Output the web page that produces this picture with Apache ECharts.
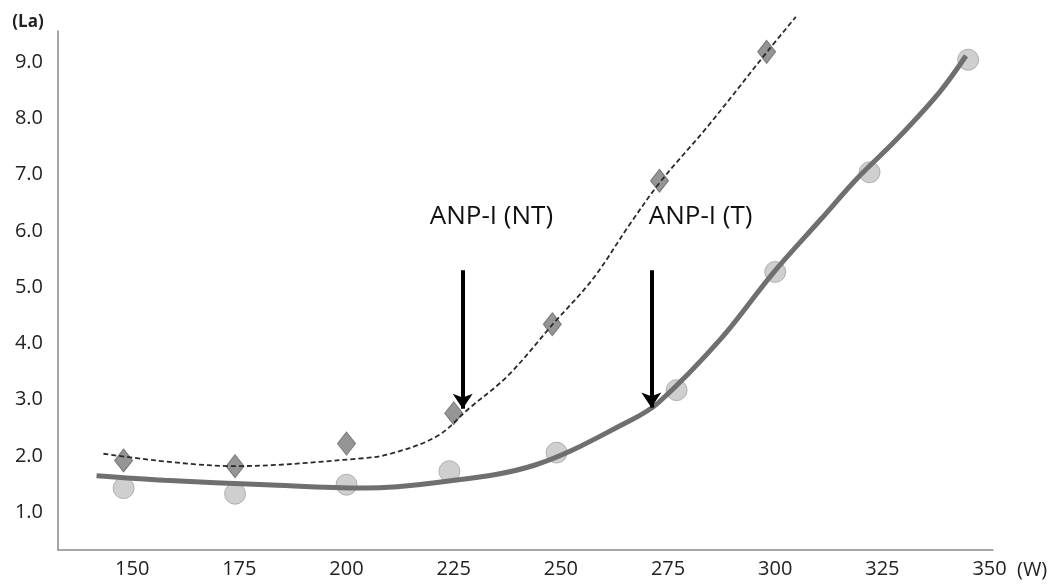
<!DOCTYPE html>
<html>
<head>
<meta charset="utf-8">
<script src="https://cdn.jsdelivr.net/npm/echarts@6/dist/echarts.min.js"></script>
<style>html,body{margin:0;padding:0;background:#fff;}#chart{width:1052px;height:584px;}</style>
</head>
<body>
<div id="chart"></div>
<script>
// Tick labels
const xTicks = [150, 175, 200, 225, 250, 275, 300, 325, 350];
const yTicks = [1, 2, 3, 4, 5, 6, 7, 8, 9];

// Measured points: T (circles)
const wT = [148, 174, 200, 224, 249, 277, 300, 322, 345];
const laT = [1.43, 1.33, 1.49, 1.73, 2.06, 3.17, 5.27, 7.04, 9.04];

// Measured points: NT (diamonds)
const wNT = [148, 174, 200, 225, 248, 273, 298];
const laNT = [1.92, 1.82, 2.22, 2.76, 4.34, 6.89, 9.18];

// Trend curve T (solid)
const trendTW = [141.7, 157.6, 181.2, 203.9, 221.1, 244.0, 266.2, 272.8, 287.3, 299.5, 310.7, 319.1, 328.4, 338.4, 344.5];
const trendTLa = [1.65, 1.57, 1.49, 1.43, 1.53, 1.84, 2.63, 2.95, 4.08, 5.25, 6.21, 6.93, 7.63, 8.47, 9.11];

// Trend curve NT (dashed)
const trendNTW = [143.3, 173.6, 203.9, 210.3, 221.1, 228.5, 237.7, 248.1, 257.5, 266.2, 273.2, 284.3, 298.1, 304.8];
const trendNTLa = [2.04, 1.82, 1.96, 2.04, 2.35, 2.84, 3.43, 4.34, 5.15, 6.13, 6.87, 7.86, 9.18, 9.80];

// Annotations
const arrowLabels = ['ANP-I (NT)', 'ANP-I (T)'];
const arrowW = [227.1, 271.1];
const arrowTop = [5.30, 5.30];
const arrowBottom = [2.84, 2.86];
const labelW = [233.8, 282.6];
const labelLa = [6.25, 6.25];

const zip = (a, b) => a.map((v, i) => [v, b[i]]);
const FONT = 'Open Sans';

const chart = echarts.init(document.getElementById('chart'));
chart.setOption({
  backgroundColor: '#ffffff',
  animation: false,
  grid: { left: 58, right: 59, top: 31, bottom: 34, outerBoundsMode: 'none' },
  xAxis: {
    type: 'value',
    min: 132.7,
    max: 350.8,
    name: '(W)',
    nameLocation: 'end',
    nameGap: 24,
    nameTextStyle: { fontFamily: FONT, fontSize: 20, color: '#222', align: 'left', verticalAlign: 'top', lineHeight: 40 },
    axisLine: { show: true, lineStyle: { color: '#8a8a8a', width: 1.5 } },
    axisTick: { show: false },
    splitLine: { show: false },
    axisLabel: {
      customValues: xTicks,
      margin: 9,
      fontFamily: FONT, fontSize: 20, color: '#222',
      formatter: v => String(v)
    }
  },
  yAxis: {
    type: 'value',
    min: 0.33,
    max: 9.55,
    name: '(La)',
    nameLocation: 'end',
    nameGap: 0,
    nameTextStyle: { fontFamily: FONT, fontSize: 17, fontWeight: 'bold', color: '#222', padding: [0, 60, 0, 0] },
    axisLine: { show: true, lineStyle: { color: '#8a8a8a', width: 1.5 } },
    axisTick: { show: false },
    splitLine: { show: false },
    axisLabel: {
      customValues: yTicks,
      margin: 15,
      fontFamily: FONT, fontSize: 20, color: '#222',
      formatter: v => v.toFixed(1)
    }
  },
  series: [
    {
      name: 'T points', type: 'scatter', z: 2,
      symbol: 'circle', symbolSize: 21,
      itemStyle: { color: '#c3c3c3', borderColor: '#a3a3a3', borderWidth: 1 },
      data: zip(wT, laT)
    },
    {
      name: 'NT points', type: 'scatter', z: 2,
      symbol: 'diamond', symbolSize: [18, 23],
      itemStyle: { color: '#7b7b7b', borderColor: '#686868', borderWidth: 1 },
      data: zip(wNT, laNT)
    },
    {
      name: 'T trend', type: 'line', z: 3,
      smooth: 0.35, showSymbol: false, symbol: 'none',
      lineStyle: { color: '#6f6f6f', width: 5 },
      data: zip(trendTW, trendTLa)
    },
    {
      name: 'NT trend', type: 'line', z: 3, clip: false,
      smooth: 0.35, showSymbol: false, symbol: 'none',
      lineStyle: { color: '#2a2a2a', width: 1.8, type: [5, 3] },
      data: zip(trendNTW, trendNTLa),
      markLine: {
        silent: true,
        symbol: ['none', 'arrow'],
        symbolSize: 15,
        label: { show: false },
        lineStyle: { color: '#000', width: 4, type: 'solid' },
        data: arrowW.map((w, i) => [
          { coord: [w, arrowTop[i]] },
          { coord: [w, arrowBottom[i]] }
        ])
      }
    },
    {
      name: 'labels', type: 'scatter', z: 4,
      symbolSize: 0, silent: true,
      itemStyle: { opacity: 1 },
      label: {
        show: true, position: 'inside',
        fontFamily: FONT, fontSize: 26, color: '#111',
        formatter: p => p.name
      },
      data: arrowLabels.map((t, i) => ({ name: t, value: [labelW[i], labelLa[i]] }))
    }
  ]
});
</script>
</body>
</html>
